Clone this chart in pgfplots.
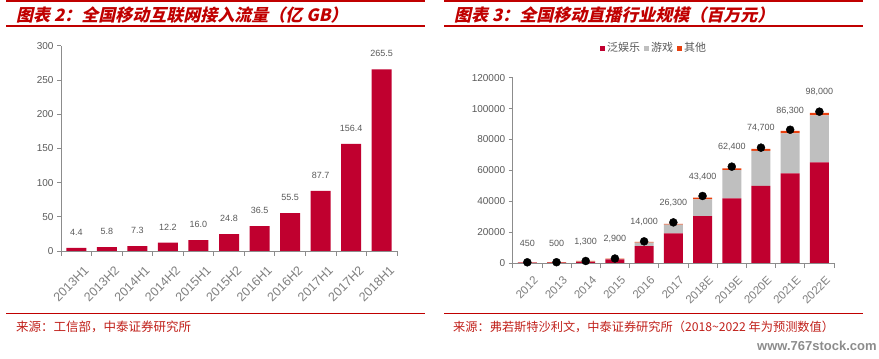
\documentclass[border=0pt]{standalone}
\usepackage{pgfplots}
\pgfplotsset{compat=1.18}
\usepackage{fontspec}
\setmainfont{Liberation Sans}
\newfontfamily\cjk{Noto Sans CJK SC}
\newfontfamily\cjkt{Noto Sans CJK SC}[FakeSlant=0.22]
\definecolor{titlered}{HTML}{C00000}
\definecolor{srcred}{HTML}{C0201A}
\definecolor{barred}{HTML}{C0002F}
\definecolor{bargray}{HTML}{BFBFBF}
\definecolor{barorange}{HTML}{E8400F}
\definecolor{axisgray}{HTML}{8C8C8C}
\definecolor{labgray}{HTML}{595959}
\definecolor{ticktext}{HTML}{7F7F7F}
\newcommand{\legfont}{\cjk\fontsize{11}{11}\selectfont}
\begin{document}
\begin{tikzpicture}[x=1pt,y=1pt]
\path[use as bounding box] (0,0) rectangle (879,359);
% frame lines
\draw[titlered, line width=1.3pt] (6,358) -- (425,358);
\draw[titlered, line width=1.3pt] (6,333) -- (425,333);
\draw[titlered, line width=1.3pt] (6,45.7) -- (425,45.7);
\draw[titlered, line width=1.3pt] (444,358) -- (863,358);
\draw[titlered, line width=1.3pt] (444,333) -- (863,333);
\draw[titlered, line width=1.3pt] (444,45.7) -- (863,45.7);
% titles
\node[anchor=west, inner sep=0, text=titlered, font=\cjkt\bfseries\fontsize{17}{17}\selectfont] at (16,344) {图表 2：全国移动互联网接入流量（亿 GB）};
\node[anchor=west, inner sep=0, text=titlered, font=\cjkt\bfseries\fontsize{17}{17}\selectfont] at (454,344) {图表 3：全国移动直播行业规模（百万元）};
% sources
\node[anchor=west, inner sep=0, text=srcred, font=\cjk\fontsize{12.5}{12.5}\selectfont] at (16,32) {来源：工信部，中泰证券研究所};
\node[anchor=west, inner sep=0, text=srcred, font=\cjk\fontsize{12.2}{12.2}\selectfont] at (453,32) {来源：弗若斯特沙利文，中泰证券研究所（2018\textasciitilde 2022 年为预测数值）};
\node[anchor=west, inner sep=0, text=axisgray, font=\bfseries\fontsize{13}{13}\selectfont] at (757,13) {www.767stock.com};

% left chart
\begin{axis}[
  at={(61pt,108pt)}, anchor=south west, width=336pt, height=205.3pt, scale only axis,
  ybar, bar width=20pt,
  xmin=-0.5, xmax=10.5, ymin=0, ymax=300,
  xtick={0,...,10},
  xticklabels={2013H1,2013H2,2014H1,2014H2,2015H1,2015H2,2016H1,2016H2,2017H1,2017H2,2018H1},
  minor xtick={-0.5,0.5,...,10.5},
  ytick={0,50,...,300},
  axis x line*=bottom, axis y line*=left,
  axis line style={axisgray, line width=0.8pt, -},
  every tick/.style={axisgray, line width=0.8pt},
  major x tick style={draw=none},
  major tick length=4pt, minor tick length=5pt,
  tick align=outside,
  /pgf/number format/assume math mode=true,
  y tick label style={font=\fontsize{10}{10}\selectfont, text=labgray},
  x tick label style={font=\fontsize{12.5}{12.5}\selectfont, text=ticktext, rotate=45, anchor=north east, inner sep=1pt, xshift=-1pt, yshift=-11pt},
  clip=false,
]
\addplot[fill=barred, draw=none,
  nodes near coords={\pgfmathprintnumber[fixed,fixed zerofill,precision=1]{\pgfplotspointmeta}},
  nodes near coords style={font=\fontsize{9}{9}\selectfont, text=labgray, yshift=9pt}]
  coordinates {(0,4.4) (1,5.8) (2,7.3) (3,12.2) (4,16.0) (5,24.8) (6,36.5) (7,55.5) (8,87.7) (9,156.4) (10,265.5)};
\end{axis}

% right chart
\begin{axis}[
  at={(512.7pt,96pt)}, anchor=south west, width=321.3pt, height=185.3pt, scale only axis,
  ybar stacked, bar width=19pt,
  xmin=-0.5, xmax=10.5, ymin=0, ymax=120000,
  xtick={0,...,10},
  xticklabels={2012,2013,2014,2015,2016,2017,2018E,2019E,2020E,2021E,2022E},
  minor xtick={-0.5,0.5,...,10.5},
  ytick={0,20000,...,120000},
  scaled y ticks=false,
  yticklabel style={/pgf/number format/fixed, /pgf/number format/precision=0, /pgf/number format/1000 sep={}},
  axis x line*=bottom, axis y line*=left,
  axis line style={axisgray, line width=0.8pt, -},
  every tick/.style={axisgray, line width=0.8pt},
  major x tick style={draw=none},
  major tick length=4pt, minor tick length=5pt,
  tick align=outside,
  /pgf/number format/assume math mode=true,
  y tick label style={font=\fontsize{10}{10}\selectfont, text=labgray},
  x tick label style={font=\fontsize{11.5}{11.5}\selectfont, text=ticktext, rotate=45, anchor=north east, inner sep=1pt, xshift=-1pt, yshift=-9pt},
  legend image code/.code={\fill[#1] (0pt,-2.5pt) rectangle (5pt,2.5pt);},
  legend style={at={(0.44,1.16)}, anchor=center, draw=none, fill=none,
    font=\legfont, text=labgray, legend columns=3, inner sep=1pt,
    /tikz/every even column/.append style={column sep=2pt},
    /tikz/every odd column/.append style={column sep=0pt}},
  clip=false,
]
\addplot[fill=barred, draw=none] coordinates {(0,200) (1,250) (2,800) (3,2400) (4,11000) (5,19200) (6,30400) (7,41900) (8,49900) (9,58100) (10,65200)};
\addlegendentry{\legfont 泛娱乐}
\addplot[fill=bargray, draw=none] coordinates {(0,50) (1,50) (2,100) (3,100) (4,2200) (5,5600) (6,10800) (7,18300) (8,22700) (9,25900) (10,30400)};
\addlegendentry{\legfont 游戏}
\addplot[fill=barorange, draw=none] coordinates {(0,200) (1,200) (2,400) (3,300) (4,500) (5,600) (6,1100) (7,1100) (8,1300) (9,1500) (10,1700)};
\addlegendentry{\legfont 其他}
\end{axis}
\begin{axis}[
  at={(512.7pt,96pt)}, anchor=south west, width=321.3pt, height=185.3pt, scale only axis,
  xmin=-0.5, xmax=10.5, ymin=0, ymax=120000, hide axis, clip=false,
  /pgf/number format/assume math mode=true,
]
\addplot[only marks, mark=*, mark size=4pt, black,
  nodes near coords={\pgfmathprintnumber[fixed,precision=0,1000 sep={,}]{\pgfplotspointmeta}},
  nodes near coords style={font=\fontsize{9}{9}\selectfont, text=labgray, yshift=12pt}]
  coordinates {(0,450) (1,500) (2,1300) (3,2900) (4,14000) (5,26300) (6,43400) (7,62400) (8,74700) (9,86300) (10,98000)};
\end{axis}
\end{tikzpicture}
\end{document}
